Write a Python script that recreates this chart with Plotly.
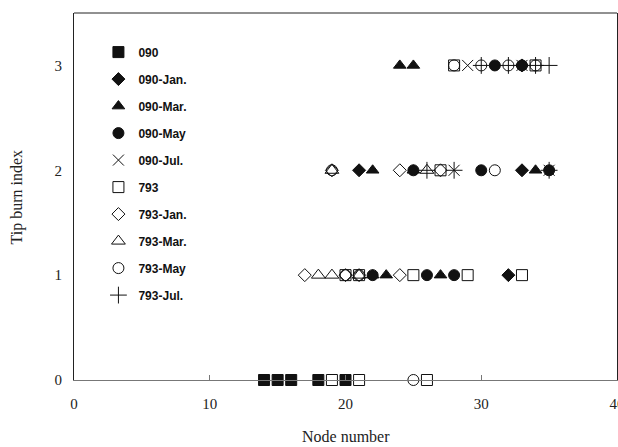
import plotly.graph_objects as go

# Series names and values (node number, tip burn index)
names = ["090", "090-Jan.", "090-Mar.", "090-May", "090-Jul.",
         "793", "793-Jan.", "793-Mar.", "793-May", "793-Jul."]

s090_x = [14, 15, 16, 18, 20]
s090_y = [0, 0, 0, 0, 0]
s090jan_x = [32, 21, 33, 33]
s090jan_y = [1, 2, 2, 3]
s090mar_x = [22, 23, 27, 22, 25, 34, 24, 25]
s090mar_y = [1, 1, 1, 2, 2, 2, 3, 3]
s090may_x = [22, 26, 28, 25, 30, 35, 31, 33]
s090may_y = [1, 1, 1, 2, 2, 2, 3, 3]
s090jul_x = [28, 35, 29, 33]
s090jul_y = [2, 2, 3, 3]
s793_x = [19, 21, 26, 20, 21, 25, 29, 33, 27, 28, 34]
s793_y = [0, 0, 0, 1, 1, 1, 1, 1, 2, 3, 3]
s793jan_x = [17, 20, 21, 24, 19, 24, 27]
s793jan_y = [1, 1, 1, 1, 2, 2, 2]
s793mar_x = [18, 19, 21, 19, 26]
s793mar_y = [1, 1, 1, 2, 2]
s793may_x = [25, 20, 21, 19, 31, 28, 30, 32, 34]
s793may_y = [0, 1, 1, 2, 2, 3, 3, 3, 3]
s793jul_x = [26, 28, 35, 30, 32, 34, 35]
s793jul_y = [2, 2, 2, 3, 3, 3, 3]

x_ticks = [0, 10, 20, 30, 40]
y_ticks = [0, 1, 2, 3]

xs = [s090_x, s090jan_x, s090mar_x, s090may_x, s090jul_x,
      s793_x, s793jan_x, s793mar_x, s793may_x, s793jul_x]
ys = [s090_y, s090jan_y, s090mar_y, s090may_y, s090jul_y,
      s793_y, s793jan_y, s793mar_y, s793may_y, s793jul_y]
symbols = ["square", "diamond", "triangle-up", "circle", "x-thin-open",
           "square-open", "diamond-open", "triangle-up-open", "circle-open", "cross-thin-open"]
sizes = [11, 10, 11, 11, 11, 11, 10, 12, 11, 12]

fig = go.Figure()
for i, n in enumerate(names):
    fig.add_trace(go.Scatter(
        x=xs[i], y=ys[i], mode="markers", name=n, legendgroup=n,
        marker=dict(symbol=symbols[i], size=sizes[i], color="#111111",
                    line=dict(color="#111111", width=1)),
        cliponaxis=False,
    ))

serif = "Liberation Serif, DejaVu Serif, serif"
fig.update_layout(
    width=618, height=447,
    margin=dict(l=74, r=1, t=13, b=67),
    paper_bgcolor="white", plot_bgcolor="white",
    showlegend=True,
    legend=dict(x=0.045, y=0.933, xanchor="left", yanchor="top",
                bgcolor="rgba(0,0,0,0)", tracegroupgap=8,
                font=dict(family="Liberation Sans, Arial, sans-serif", size=12, color="#111",
                          weight="bold"),
                itemwidth=30),
    xaxis=dict(range=[0, 40], tickvals=x_ticks, ticktext=[str(v) for v in x_ticks],
               automargin=False, ticklabeloverflow="allow",
               showgrid=False, zeroline=False, showline=True, linecolor="#777777", linewidth=1,
               ticks="inside", ticklen=5, tickcolor="#777777", ticklabelstandoff=10,
               tickfont=dict(family=serif, size=15, color="#222")),
    yaxis=dict(range=[0, 3.5], tickvals=y_ticks, showgrid=False, zeroline=False,
               automargin=False,
               showline=True, mirror=True, linecolor="#222222", linewidth=1,
               ticks="", ticklabelstandoff=8, tickfont=dict(family=serif, size=15, color="#222")),
    shapes=[dict(type="line", xref="paper", yref="paper", x0=0, x1=1, y0=1, y1=1,
                 line=dict(color="#222222", width=1))],
    annotations=[
        dict(text="Node number", xref="paper", yref="paper", x=0.5, y=-0.155,
             xanchor="center", yanchor="middle", showarrow=False,
             font=dict(family=serif, size=16, color="#222")),
        dict(text="Tip burn index", xref="paper", yref="paper", x=-0.105, y=0.5,
             xanchor="center", yanchor="middle", showarrow=False, textangle=-90,
             font=dict(family=serif, size=16, color="#222")),
    ],
)

fig.write_html("out.html", config={"displayModeBar": False},
               post_script="document.body.style.margin='0';document.body.style.overflow='hidden';")
